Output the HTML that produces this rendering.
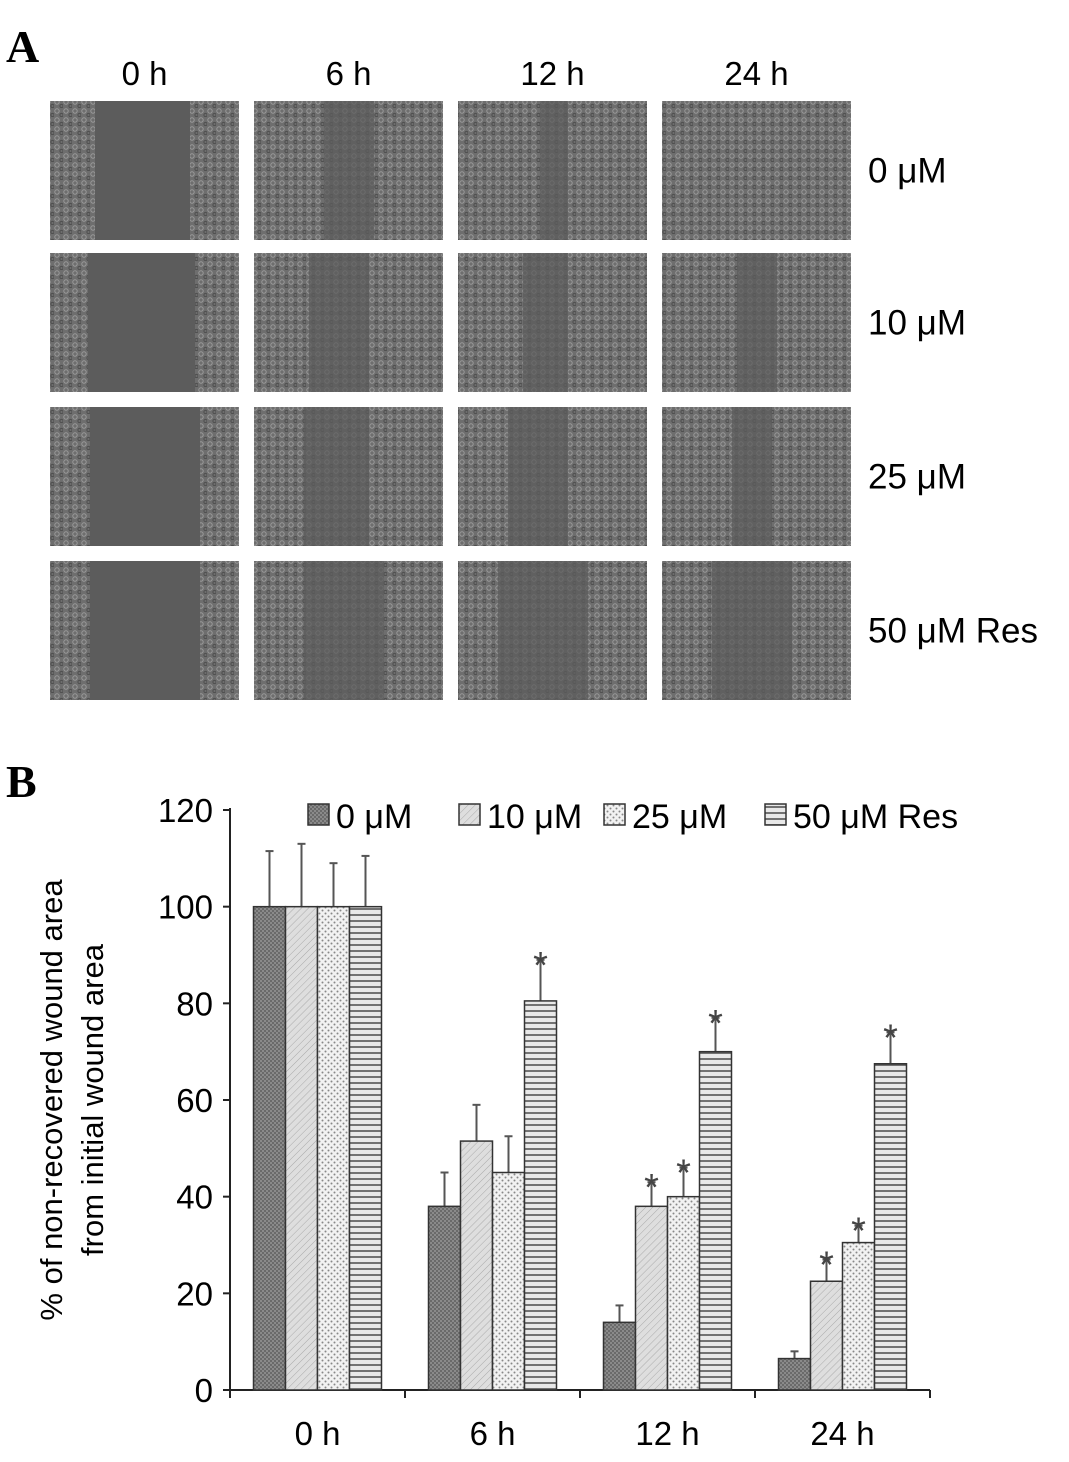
<!DOCTYPE html>
<html><head><meta charset="utf-8"><style>
body{margin:0;background:#fff;width:1069px;height:1457px;overflow:hidden;font-family:"Liberation Sans",sans-serif}
svg text{font-family:"Liberation Sans",sans-serif}
</style></head><body>
<svg width="1069" height="1457" xmlns="http://www.w3.org/2000/svg">
<defs>
<pattern id="cells" width="9" height="9" patternUnits="userSpaceOnUse">
<rect width="9" height="9" fill="#6e6e6e"/>
<circle cx="3" cy="3" r="2.2" fill="none" stroke="#9a9a9a" stroke-width="1"/>
<circle cx="7.5" cy="7" r="1.6" fill="none" stroke="#4e4e4e" stroke-width="1"/>
</pattern>
<pattern id="p0" width="4" height="4" patternUnits="userSpaceOnUse"><rect width="4" height="4" fill="#6a6a6a"/><rect width="2" height="2" fill="#8a8a8a"/><rect x="2" y="2" width="2" height="2" fill="#8a8a8a"/></pattern>
<pattern id="p1" width="5" height="5" patternUnits="userSpaceOnUse" patternTransform="rotate(45)"><rect width="5" height="5" fill="#dedede"/><line x1="0" y1="0" x2="0" y2="5" stroke="#aaa" stroke-width="1"/></pattern>
<pattern id="p2" width="6" height="6" patternUnits="userSpaceOnUse"><rect width="6" height="6" fill="#f2f2f2"/><circle cx="1.5" cy="1.5" r="1" fill="#888"/><circle cx="4.5" cy="4.5" r="1" fill="#888"/></pattern>
<pattern id="p3" width="6" height="6" patternUnits="userSpaceOnUse"><rect width="6" height="6" fill="#e8e8e8"/><line x1="0" y1="3" x2="6" y2="3" stroke="#555" stroke-width="1.6"/></pattern>
</defs>
<text x="6" y="62" style="font-family:'Liberation Serif',serif" font-weight="bold" font-size="46">A</text>
<text x="6" y="797" style="font-family:'Liberation Serif',serif" font-weight="bold" font-size="46">B</text>
<g id="grid"></g>
<g id="chart"></g>
</svg>
<script>
const NS="http://www.w3.org/2000/svg";
function mk(t,a,p){const e=document.createElementNS(NS,t);for(const k in a)e.setAttribute(k,a[k]);p.appendChild(e);return e;}
const grid=document.getElementById('grid');
const colX=[50,254,458,662], rowY=[101,253,407,561], cw=189, ch=139;
const timeLabels=['0 h','6 h','12 h','24 h'];
const doseLabels=['0 μM','10 μM','25 μM','50 μM Res'];
const bands=[[[45,140],[70,120],[82,110],[0,0]],[[38,145],[55,115],[65,110],[75,115]],[[40,150],[50,115],[50,110],[70,110]],[[40,150],[50,130],[40,130],[50,130]]];
timeLabels.forEach((t,i)=>{const e=mk('text',{x:colX[i]+cw/2,y:85,'text-anchor':'middle','font-size':33},grid);e.textContent=t;

});
doseLabels.forEach((t,j)=>{const e=mk('text',{x:868,y:rowY[j]+ch/2+12,'font-size':35},grid);e.textContent=t;

});
for(let j=0;j<4;j++)for(let i=0;i<4;i++){
 const r=mk('rect',{x:colX[i],y:rowY[j],width:cw,height:ch,fill:'url(#cells)'},grid);
 
 
 const b=bands[j][i];
 if(b[1]>b[0]){const w=mk('rect',{x:colX[i]+b[0],y:rowY[j],width:b[1]-b[0],height:ch,fill:'#5c5c5c',opacity:(i==0?1:0.75)},grid);
 
 }
}
const categories=['0 h','6 h','12 h','24 h'];
const seriesNames=['0 μM','10 μM','25 μM','50 μM Res'];
const s0=[100,38,14,6.5], e0=[11.5,7,3.5,1.5];
const s1=[100,51.5,38,22.5], e1=[13,7.5,5,4.5];
const s2=[100,45,40,30.5], e2=[9,7.5,6,3.5];
const s3=[100,80.5,70,67.5], e3=[10.5,8.5,7,6.5];
const sig1=[false,false,true,true], sig2=[false,false,true,true], sig3=[false,true,true,true], sig0=[false,false,false,false];
const yTicks=[0,20,40,60,80,100,120];
const vals=[s0,s1,s2,s3], errs=[e0,e1,e2,e3], sigs=[sig0,sig1,sig2,sig3];
const fills=['url(#p0)','url(#p1)','url(#p2)','url(#p3)'];
const ch2=document.getElementById('chart');
const x0=230,x1=930,yb=1390,yt=810;
const Y=v=>yb-(v/120)*(yb-yt);
const band=(x1-x0)/categories.length, bw=32;
const X=(c,s)=>x0+band*c+band/2-2*bw+s*bw;
let a=mk('line',{x1:x0,y1:yt-2,x2:x0,y2:yb,stroke:'#222','stroke-width':2},ch2);
a=mk('line',{x1:x0,y1:yb,x2:x1,y2:yb,stroke:'#222','stroke-width':2},ch2);
yTicks.forEach(v=>{mk('line',{x1:x0-7,y1:Y(v),x2:x0,y2:Y(v),stroke:'#222','stroke-width':2},ch2);
 const t=mk('text',{x:x0-17,y:Y(v)+12,'text-anchor':'end','font-size':33},ch2);t.textContent=v;
 
 });
for(let c=0;c<=categories.length;c++)mk('line',{x1:x0+band*c,y1:yb,x2:x0+band*c,y2:yb+8,stroke:'#222','stroke-width':2},ch2);
categories.forEach((c,i)=>{const t=mk('text',{x:x0+band*i+band/2,y:1445,'text-anchor':'middle','font-size':33},ch2);t.textContent=c;
 
 });
const yt1=mk('text',{transform:'translate(62,1100) rotate(-90)','text-anchor':'middle','font-size':31},ch2);
yt1.textContent='% of non-recovered wound area';


const yt2=mk('text',{transform:'translate(103,1100) rotate(-90)','text-anchor':'middle','font-size':31},ch2);
yt2.textContent='from initial wound area';


for(let s=0;s<4;s++)for(let c=0;c<4;c++){
 const v=vals[s][c],e=errs[s][c],x=X(c,s);
 const top=Y(v+e);
 mk('line',{x1:x+bw/2,y1:Y(v),x2:x+bw/2,y2:top,stroke:'#555','stroke-width':2},ch2);
 mk('line',{x1:x+bw/2-4,y1:top,x2:x+bw/2+4,y2:top,stroke:'#555','stroke-width':2},ch2);
 const r=mk('rect',{x:x,y:Y(v),width:bw,height:yb-Y(v),fill:fills[s],stroke:'#333','stroke-width':1.5},ch2);
 
 
 if(sigs[s][c]){const t=mk('text',{x:x+bw/2,y:top+18,'text-anchor':'middle','font-size':38,fill:'#444'},ch2);t.textContent='*';
  
  }
}
const lx=[308,459,604,765];
seriesNames.forEach((n,i)=>{
 const r=mk('rect',{x:lx[i],y:804,width:21,height:21,fill:fills[i],stroke:'#333','stroke-width':1.5},ch2);
 
 
 const t=mk('text',{x:lx[i]+28,y:828,'font-size':34},ch2);t.textContent=n;
 
 
});
</script>
</body></html>
